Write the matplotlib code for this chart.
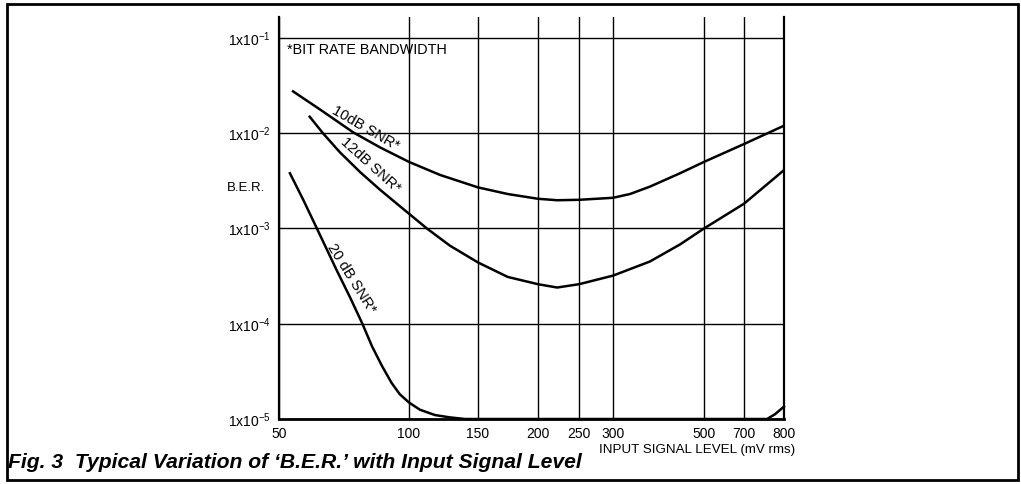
import matplotlib
matplotlib.use("Agg")
import numpy as np
import matplotlib.pyplot as plt
from matplotlib.patches import Rectangle

plt.rcParams["font.family"] = ["Liberation Sans", "DejaVu Sans"]
plt.rcParams["mathtext.default"] = "regular"

# curves (input mV rms, bit error rate)
snr10_x = [53.9, 56.9, 62.4, 74.3, 85.7, 100, 120, 150, 173, 200, 222, 250, 300, 330, 369, 437, 500, 700, 800]
snr10_y = [2.75e-2, 2.33e-2, 1.76e-2, 1.02e-2, 7.1e-3, 5.0e-3, 3.65e-3, 2.7e-3, 2.3e-3, 2.05e-3, 1.98e-3, 2.0e-3, 2.1e-3, 2.3e-3, 2.75e-3, 3.8e-3, 5.0e-3, 7.7e-3, 1.2e-2]

snr12_x = [58.9, 63.2, 69.2, 77.1, 85.7, 94.3, 100, 111.1, 127.2, 150, 173, 200, 222, 250, 300, 369, 437, 500, 700, 800]
snr12_y = [1.49e-2, 1.0e-2, 6.3e-3, 3.9e-3, 2.55e-3, 1.78e-3, 1.43e-3, 1.0e-3, 6.6e-4, 4.4e-4, 3.1e-4, 2.6e-4, 2.4e-4, 2.6e-4, 3.2e-4, 4.5e-4, 6.8e-4, 1.0e-3, 1.82e-3, 4.1e-3]

snr20_x = [53.0, 56.9, 61.2, 68.1, 73.0, 78.0, 82.1, 86.6, 91.1, 95.2, 100, 106.7, 116.5, 127.2, 139, 200, 300, 500, 700, 756, 776, 800]
snr20_y = [3.8e-3, 2.0e-3, 1.0e-3, 3.6e-4, 1.9e-4, 1.0e-4, 5.8e-5, 3.6e-5, 2.4e-5, 1.82e-5, 1.49e-5, 1.25e-5, 1.1e-5, 1.04e-5, 1.0e-5, 1.0e-5, 1.0e-5, 1.0e-5, 1.0e-5, 1.0e-5, 1.12e-5, 1.35e-5]

x_ticks = [50, 100, 150, 200, 250, 300, 500, 700, 800]
x_labels = ["50", "100", "150", "200", "250", "300", "500", "700", "800"]
y_ticks = [1e-5, 1e-4, 1e-3, 1e-2, 1e-1]
y_labels = [r"1x10$^{-5}$", r"1x10$^{-4}$", r"1x10$^{-3}$", r"1x10$^{-2}$", r"1x10$^{-1}$"]

# the printed x axis is a hand-ruled log scale; where each ruling sits along the axis (0..1)
x_rule = [0.0, 0.2574, 0.394, 0.5129, 0.594, 0.6614, 0.8416, 0.9208, 1.0]
log_ticks = np.log10(x_ticks)


def fwd(x):
    return np.interp(np.log10(np.clip(x, 1e-9, None)), log_ticks, x_rule)


def inv(f):
    return 10 ** np.interp(f, x_rule, log_ticks)


W, H = 1021, 484
fig = plt.figure(figsize=(W / 100, H / 100), dpi=100)
ax = fig.add_axes([279 / W, 1 - 419 / H, (784 - 279) / W, (419 - 17) / H])

ax.set_xscale("function", functions=(fwd, inv))
ax.set_yscale("log")

ax.plot(snr10_x, snr10_y, color="black", lw=1.8)
ax.plot(snr12_x, snr12_y, color="black", lw=1.8)
ax.plot(snr20_x, snr20_y, color="black", lw=1.8, clip_on=False)

ax.set_xlim(50, 800)
ax.set_ylim(1e-5, 0.166)

ax.set_xticks(x_ticks)
ax.set_xticklabels(x_labels)
ax.set_yticks(y_ticks)
ax.set_yticklabels(y_labels)
ax.minorticks_off()
ax.tick_params(length=0, labelsize=10, colors="black")
ax.tick_params(axis="x", pad=6)
ax.tick_params(axis="y", pad=6)

ax.grid(True, which="major", color="black", lw=1.0)
ax.spines["top"].set_visible(False)
ax.spines["left"].set_linewidth(1.6)
ax.spines["right"].set_linewidth(1.6)
ax.spines["bottom"].set_linewidth(2.0)

ax.text(79.5, 0.0112, "10dB SNR*", rotation=-30, ha="center", va="center",
        rotation_mode="anchor", fontsize=10.5)
ax.text(81.5, 4.6e-3, "12dB SNR*", rotation=-42, ha="center", va="center",
        rotation_mode="anchor", fontsize=10.5)
ax.text(73.5, 3.0e-4, "20 dB SNR*", rotation=-58, ha="center", va="center",
        rotation_mode="anchor", fontsize=10.5)

fig.text(287 / W, 1 - 50 / H, "*BIT RATE BANDWIDTH", ha="left", va="center", fontsize=10.4)
fig.text(246 / W, 1 - 188 / H, "B.E.R.", ha="center", va="center", fontsize=9.5)
fig.text(795 / W, 1 - 450 / H, "INPUT SIGNAL LEVEL (mV rms)", ha="right", va="center", fontsize=9.6)
fig.text(8 / W, 1 - 462 / H, "Fig. 3  Typical Variation of \u2018B.E.R.\u2019 with Input Signal Level",
         ha="left", va="center", fontsize=15.2, fontweight="bold", fontstyle="italic")

fig.patches.append(Rectangle((7 / W, 1 - 480 / H), (1018 - 7) / W, (480 - 4) / H,
                             transform=fig.transFigure, fill=False, lw=2, color="black"))

fig.savefig("out.png", dpi=100)
